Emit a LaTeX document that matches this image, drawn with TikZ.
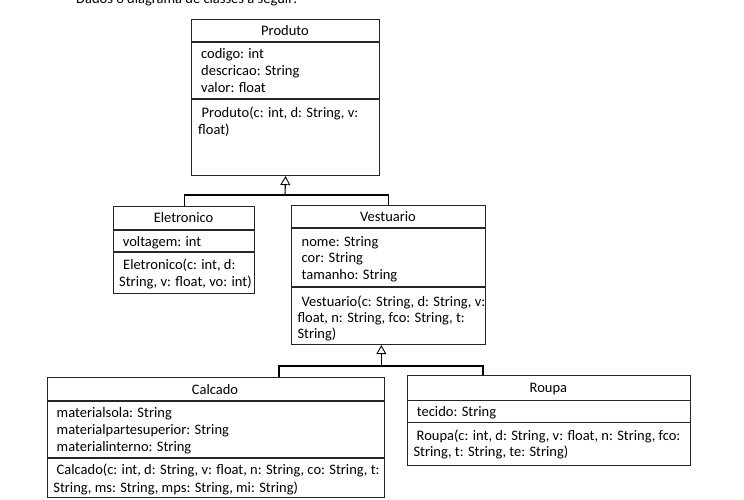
\documentclass[tikz,border=0pt]{standalone}
\usepackage{fontspec}
\setmainfont{Carlito}
\usetikzlibrary{arrows.meta}
\begin{document}
\begin{tikzpicture}[x=1pt,y=-1pt,
  box/.style={draw=black!85, line width=1.1pt, anchor=north west, inner sep=0pt},
  sep/.style={draw=black!85, line width=1.1pt},
  txt/.style={anchor=base west, inner sep=0pt, font=\fontsize{14.5}{17}\selectfont},
  ttl/.style={anchor=base, inner sep=0pt, font=\fontsize{14.5}{17}\selectfont},
  link/.style={draw=black, line width=1.1pt},
  inh/.style={draw=black, line width=1.1pt, -{Triangle[open,length=9pt,width=10pt,line width=0.9pt]}}
]
\clip (0,0) rectangle (744,499);
\fill[white] (0,0) rectangle (744,499);

% caption (cut off at top)
\node[txt] (cap) at (76,3.5) {Dados o diagrama de classes a seguir:};

% ---------------- Produto
\node[box, minimum width=188pt, minimum height=156pt] (produto) at (191,19) {};
\draw[sep] (191,42) -- (379,42);
\draw[sep] (191,99) -- (379,99);
\node[ttl] (p_t) at (285,35.5) {Produto};
\node[txt] (p_a1) at (201,58.5) {codigo: int};
\node[txt] (p_a2) at (201,75.5) {descricao: String};
\node[txt] (p_a3) at (201,92.5) {valor: float};
\node[txt] (p_m1) at (201.5,117) {Produto(c: int, d: String, v:};
\node[txt] (p_m2) at (198,134) {float)};

% ---------------- Eletronico
\node[box, minimum width=141pt, minimum height=87.5pt] (eletronico) at (113,205.5) {};
\draw[sep] (113,230) -- (254,230);
\draw[sep] (113,252) -- (254,252);
\node[ttl] (e_t) at (183.5,222.5) {Eletronico};
\node[txt] (e_a1) at (122.7,246) {voltagem: int};
\node[txt] (e_m1) at (123,269.5) {Eletronico(c: int, d:};
\node[txt] (e_m2) at (119,286) {String, v: float, vo: int)};

% ---------------- Vestuario
\node[box, minimum width=194pt, minimum height=139pt] (vestuario) at (291,205) {};
\draw[sep] (291,228) -- (485,228);
\draw[sep] (291,287) -- (485,287);
\node[ttl] (v_t) at (388,221.8) {Vestuario};
\node[txt] (v_a1) at (301.5,246.2) {nome: String};
\node[txt] (v_a2) at (301.5,262.8) {cor: String};
\node[txt] (v_a3) at (301.5,279.5) {tamanho: String};
\node[txt] (v_m1) at (301.5,306) {Vestuario(c: String, d: String, v:};
\node[txt] (v_m2) at (297.3,322.5) {float, n: String, fco: String, t:};
\node[txt] (v_m3) at (297.3,338.5) {String)};

% ---------------- Calcado
\node[box, minimum width=336.5pt, minimum height=120.5pt] (calcado) at (47,376.7) {};
\draw[sep] (47,401) -- (383.5,401);
\draw[sep] (47,458) -- (383.5,458);
\node[ttl] (c_t) at (215,394.5) {Calcado};
\node[txt] (c_a1) at (56.5,417) {materialsola: String};
\node[txt] (c_a2) at (56.5,434.5) {materialpartesuperior: String};
\node[txt] (c_a3) at (56.5,451.5) {materialinterno: String};
\node[txt] (c_m1) at (56.5,474.5) {Calcado(c: int, d: String, v: float, n: String, co: String, t:};
\node[txt] (c_m2) at (53.2,492) {String, ms: String, mps: String, mi: String)};

% ---------------- Roupa
\node[box, minimum width=282.2pt, minimum height=90pt] (roupa) at (407.3,375) {};
\draw[sep] (407.3,400.3) -- (689.5,400.3);
\draw[sep] (407.3,422.8) -- (689.5,422.8);
\node[ttl] (r_t) at (548.4,392.8) {Roupa};
\node[txt] (r_a1) at (416.7,416) {tecido: String};
\node[txt] (r_m1) at (416.5,440) {Roupa(c: int, d: String, v: float, n: String, fco:};
\node[txt] (r_m2) at (413.3,456) {String, t: String, te: String)};

% ---------------- generalizations
\coordinate (j1) at (285,195);
\draw[link] (eletronico.north) -- (eletronico.north |- j1) -- (vestuario.north |- j1) -- (vestuario.north);
\draw[inh] (j1) -- (produto.south);

\coordinate (j2) at (381.3,366);
\coordinate (jc) at (279,366);
\coordinate (jr) at (483,366);
\draw[link] (jc |- calcado.north) -- (jc) -- (jr) -- (jr |- roupa.north);
\draw[inh] (j2) -- (j2 |- vestuario.south);
\end{tikzpicture}
\end{document}
